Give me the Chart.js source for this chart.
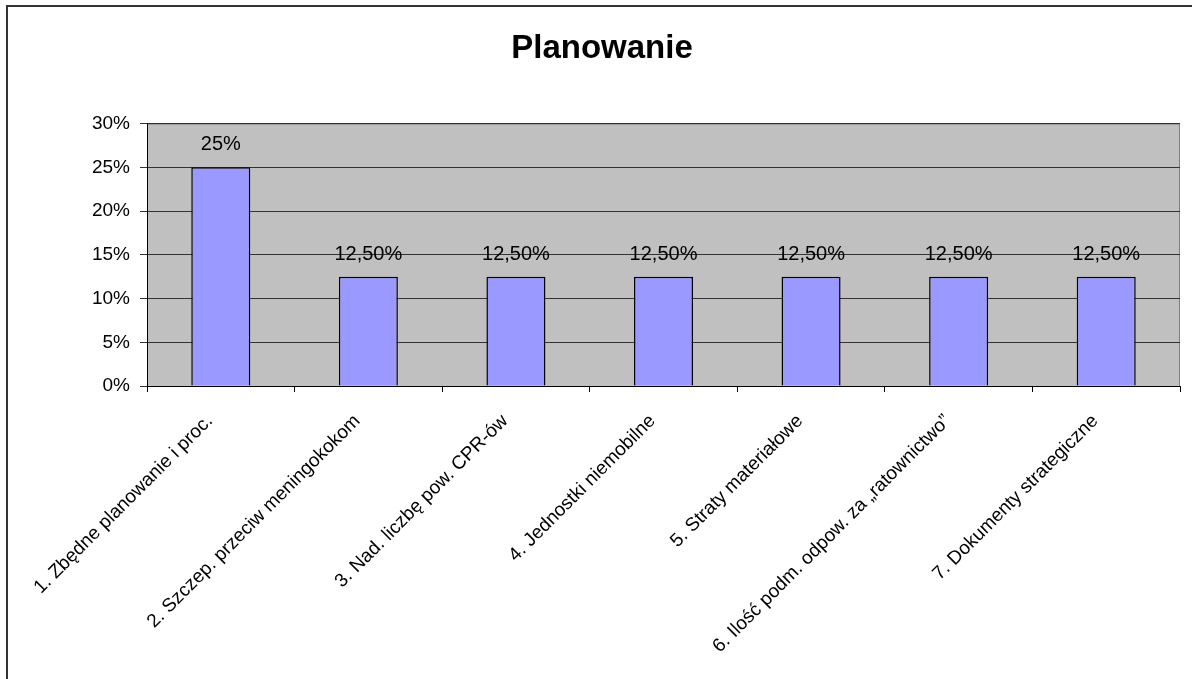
<!DOCTYPE html>
<html>
<head>
<meta charset="utf-8">
<script src="https://cdn.jsdelivr.net/npm/chart.js@4"></script>
<style>
  html, body { margin: 0; padding: 0; background: #fff; overflow: hidden; }
  #frame { position: absolute; left: 6px; top: 5px; width: 1300px; height: 800px;
           border-left: 2px solid #333; border-top: 2px solid #333; }
  #wrap { position: absolute; left: 0; top: 0; width: 1192px; height: 679px; }
</style>
</head>
<body>
<div id="frame"></div>
<div id="wrap"><canvas id="chart"></canvas></div>
<script>
// --- Data ---
const categories = [
  '1. Zbędne planowanie i proc.',
  '2. Szczep. przeciw meningokokom',
  '3. Nad. liczbę pow. CPR-ów',
  '4. Jednostki niemobilne',
  '5. Straty materiałowe',
  '6. Ilość podm. odpow. za „ratownictwo”',
  '7. Dokumenty strategiczne'
];
const shares = [0.25, 0.125, 0.125, 0.125, 0.125, 0.125, 0.125];
const valueLabels = ['25%', '12,50%', '12,50%', '12,50%', '12,50%', '12,50%', '12,50%'];
const chartTitle = 'Planowanie';

const FONT = '"Liberation Sans", Arial, sans-serif';

// grey plot area with grey top/right frame, like the old Excel style
const plotBackground = {
  id: 'plotBackground',
  beforeDraw(chart) {
    const { ctx, chartArea: a } = chart;
    ctx.save();
    ctx.fillStyle = '#c0c0c0';
    ctx.fillRect(a.left, a.top, a.right - a.left, a.bottom - a.top);
    ctx.strokeStyle = '#808080';
    ctx.lineWidth = 1;
    ctx.beginPath();
    ctx.moveTo(a.left, a.top + 0.5);
    ctx.lineTo(a.right - 0.5, a.top + 0.5);
    ctx.lineTo(a.right - 0.5, a.bottom);
    ctx.stroke();
    ctx.restore();
  }
};

// value labels above the bars
const barValueLabels = {
  id: 'barValueLabels',
  afterDatasetsDraw(chart) {
    const { ctx } = chart;
    const meta = chart.getDatasetMeta(0);
    ctx.save();
    ctx.font = '20px ' + FONT;
    ctx.fillStyle = '#000';
    ctx.textAlign = 'center';
    ctx.textBaseline = 'alphabetic';
    meta.data.forEach((bar, i) => {
      ctx.fillText(valueLabels[i], bar.x, bar.y - 17);
    });
    ctx.restore();
  }
};

new Chart(document.getElementById('chart'), {
  type: 'bar',
  data: {
    labels: categories,
    datasets: [{
      data: shares,
      backgroundColor: '#9999ff',
      borderColor: '#000',
      borderWidth: 1.5,
      barPercentage: 0.4,
      categoryPercentage: 1.0,
    }]
  },
  options: {
    responsive: true,
    maintainAspectRatio: false,
    animation: false,
    layout: { padding: { left: 24, right: 12, top: 0, bottom: 0 } },
    plugins: {
      legend: { display: false },
      tooltip: { enabled: false },
      title: {
        display: true,
        text: chartTitle,
        color: '#000',
        font: { family: FONT, size: 33, weight: 'bold', lineHeight: 1.2 },
        padding: { top: 29, bottom: 55 },
      },
    },
    scales: {
      x: {
        grid: { drawOnChartArea: false, drawTicks: true, tickLength: 6, color: '#000', offset: true },
        border: { color: '#000', width: 1 },
        ticks: {
          color: '#000',
          font: { family: FONT, size: 19 },
          autoSkip: false,
          minRotation: 45,
          maxRotation: 45,
          padding: 18,
          labelOffset: -11,
        },
        afterFit(scale) { scale.height = 293; },
      },
      y: {
        min: 0,
        max: 0.3,
        grid: { color: '#333', tickLength: 7, drawTicks: true },
        border: { color: '#000', width: 1 },
        ticks: {
          stepSize: 0.05,
          color: '#000',
          font: { family: FONT, size: 19 },
          padding: 10,
          callback: v => Math.round(v * 100) + '%',
        },
        afterFit(scale) { scale.width = 123; },
      }
    }
  },
  plugins: [plotBackground, barValueLabels]
});
</script>
</body>
</html>
